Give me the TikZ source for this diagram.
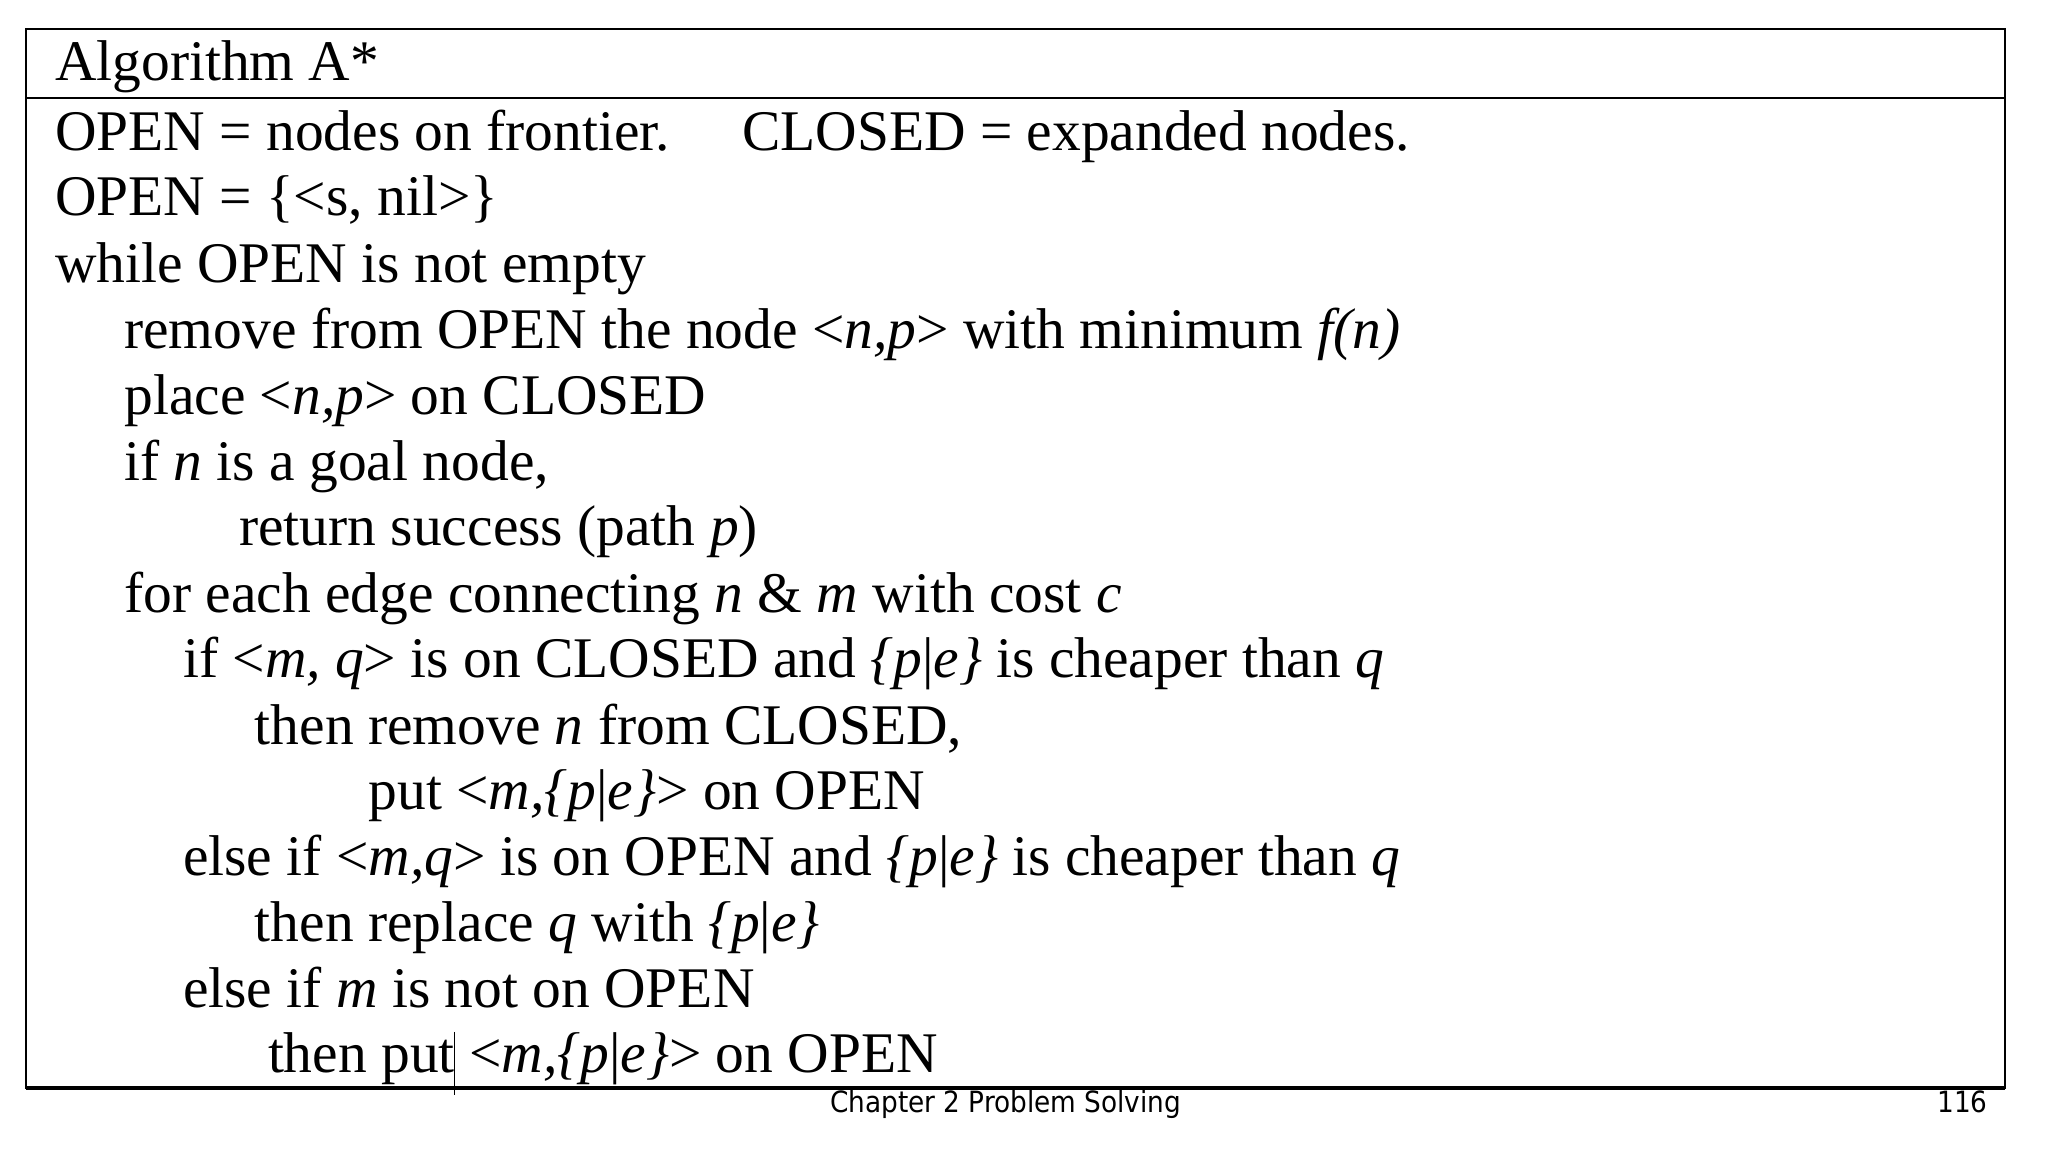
\documentclass[tikz,border=0pt]{standalone}
\usepackage{fontspec}
\setmainfont{Liberation Serif}
\newfontfamily\footfont{DejaVu Sans Condensed}
\begin{document}
\begin{tikzpicture}[x=1pt,y=-1pt,
  ln/.style={anchor=base west,inner sep=0pt,font=\fontsize{44}{50}\selectfont},
  ft/.style={inner sep=0pt,font=\footfont\fontsize{22.4}{26}\selectfont}]
\useasboundingbox (0,0) rectangle (1568,882);
\fill[white] (0,0) rectangle (1568,882);
\draw[line width=1.2pt] (20,22) rectangle (1535,833);
\draw[line width=1.2pt] (20,75) -- (1535,75);
\draw[line width=2.4pt] (20,833) -- (1535,833);
\draw[line width=0.6pt] (348,790) -- (348,838);
\node[ln] (t) at (42,62) {Algorithm A*};
\node[ln] (l1) at (42,115) {OPEN = nodes on frontier.};
\node[ln] (l1b) at (568,115) {CLOSED = expanded nodes.};
\node[ln] (l2) at (42,165) {OPEN = \{<s, nil>\}};
\node[ln] (l3) at (42,216) {while OPEN is not empty};
\node[ln] (l4) at (95,267) {remove from OPEN the node <\textit{n,p}> with minimum \textit{f(n)}};
\node[ln] (l5) at (95,317) {place <\textit{n,p}> on CLOSED};
\node[ln] (l6) at (95,368) {if \textit{n} is a goal node,};
\node[ln] (l7) at (183,418) {return success (path \textit{p})};
\node[ln] (l8) at (95,469) {for each edge connecting \textit{n} \& \textit{m} with cost \textit{c}};
\node[ln] (l9) at (140,519) {if <\textit{m, q}> is on CLOSED and \textit{\{p}|\textit{e\}} is cheaper than \textit{q}};
\node[ln] (l10) at (195,570) {then remove \textit{n} from CLOSED,};
\node[ln] (l11) at (282,620) {put <\textit{m,\{p}|\textit{e\}}> on OPEN};
\node[ln] (l12) at (140,670) {else if <\textit{m,q}> is on OPEN and \textit{\{p}|\textit{e\}} is cheaper than \textit{q}};
\node[ln] (l13) at (195,721) {then replace \textit{q} with \textit{\{p}|\textit{e\}}};
\node[ln] (l14) at (140,771) {else if \textit{m} is not on OPEN};
\node[ln] (l15) at (205,821) {then put <\textit{m,\{p}|\textit{e\}}> on OPEN};
\node[ft,anchor=base] (f1) at (770,852) {Chapter 2 Problem Solving};
\node[ft,anchor=base east] (f2) at (1522,852) {116};
\end{tikzpicture}
\end{document}
